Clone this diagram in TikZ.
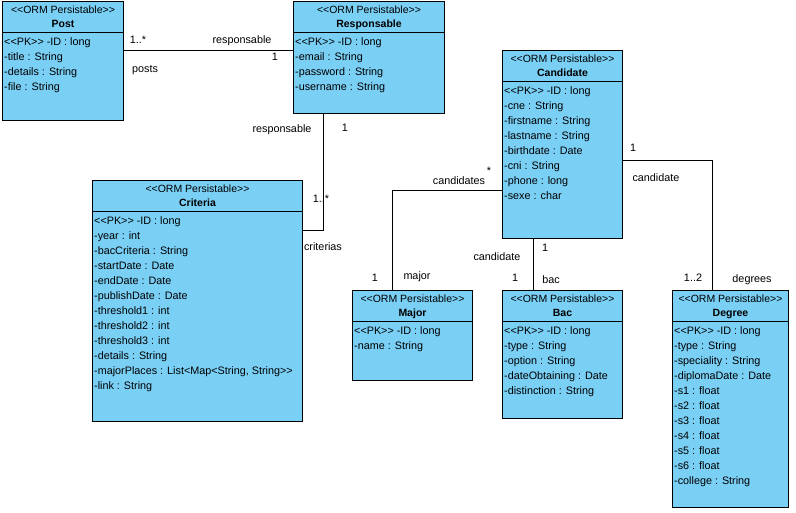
\documentclass[tikz,border=0pt]{standalone}
\usepackage{fontspec}
\newfontfamily\umlfont{Liberation Sans}
\usepackage{tikz}
\definecolor{umlblue}{RGB}{122,207,245}

\begin{document}
\begin{tikzpicture}[x=1pt,y=-1pt,
  classbox/.style={draw, fill=umlblue, anchor=north west, inner sep=0pt, line width=1pt},
  stereo/.style={anchor=base, inner sep=0pt, font=\umlfont\fontsize{10.5}{12}\selectfont},
  cname/.style={anchor=base, inner sep=0pt, font=\umlfont\bfseries\fontsize{10.5}{12}\selectfont},
  attrs/.style={anchor=north west, align=left, inner sep=0pt, font=\umlfont\fontsize{10.8}{15}\selectfont},
  lbl/.style={inner sep=0pt, font=\umlfont\fontsize{10.8}{12}\selectfont},
  assoc/.style={draw, line width=1pt}]
\useasboundingbox (0,0) rectangle (796,512);

% classes
\node[classbox, minimum width=121pt, minimum height=119pt] (post) at (2,1) {};
\node[stereo] (postst) at ([yshift=-12.75pt]post.north) {<<ORM Persistable>>};
\node[cname] (postnm) at ([yshift=-26.75pt]post.north) {Post};
\draw[line width=1pt] ([yshift=-31pt]post.north west) -- ([yshift=-31pt]post.north east);
\node[attrs] (postat) at ([xshift=2pt,yshift=-36pt]post.north west) {<<PK>> -ID : long\\-title : String\\-details : String\\-file : String};

\node[classbox, minimum width=151pt, minimum height=112pt] (resp) at (293,1) {};
\node[stereo] (respst) at ([yshift=-12.75pt]resp.north) {<<ORM Persistable>>};
\node[cname] (respnm) at ([yshift=-26.75pt]resp.north) {Responsable};
\draw[line width=1pt] ([yshift=-31pt]resp.north west) -- ([yshift=-31pt]resp.north east);
\node[attrs] (respat) at ([xshift=2pt,yshift=-36pt]resp.north west) {<<PK>> -ID : long\\-email : String\\-password : String\\-username : String};

\node[classbox, minimum width=210pt, minimum height=241pt] (crit) at (92,180) {};
\node[stereo] (critst) at ([yshift=-12.75pt]crit.north) {<<ORM Persistable>>};
\node[cname] (critnm) at ([yshift=-26.75pt]crit.north) {Criteria};
\draw[line width=1pt] ([yshift=-31pt]crit.north west) -- ([yshift=-31pt]crit.north east);
\node[attrs] (critat) at ([xshift=2pt,yshift=-36pt]crit.north west) {<<PK>> -ID : long\\-year : int\\-bacCriteria : String\\-startDate : Date\\-endDate : Date\\-publishDate : Date\\-threshold1 : int\\-threshold2 : int\\-threshold3 : int\\-details : String\\-majorPlaces : List<Map<String, String>>\\-link : String};

\node[classbox, minimum width=120pt, minimum height=188pt] (cand) at (502,50) {};
\node[stereo] (candst) at ([yshift=-12.75pt]cand.north) {<<ORM Persistable>>};
\node[cname] (candnm) at ([yshift=-26.75pt]cand.north) {Candidate};
\draw[line width=1pt] ([yshift=-31pt]cand.north west) -- ([yshift=-31pt]cand.north east);
\node[attrs] (candat) at ([xshift=2pt,yshift=-36pt]cand.north west) {<<PK>> -ID : long\\-cne : String\\-firstname : String\\-lastname : String\\-birthdate : Date\\-cni : String\\-phone : long\\-sexe : char};

\node[classbox, minimum width=120pt, minimum height=90pt] (major) at (352,290) {};
\node[stereo] (majorst) at ([yshift=-12.75pt]major.north) {<<ORM Persistable>>};
\node[cname] (majornm) at ([yshift=-26.75pt]major.north) {Major};
\draw[line width=1pt] ([yshift=-31pt]major.north west) -- ([yshift=-31pt]major.north east);
\node[attrs] (majorat) at ([xshift=2pt,yshift=-36pt]major.north west) {<<PK>> -ID : long\\-name : String};

\node[classbox, minimum width=120pt, minimum height=128pt] (bac) at (502,290) {};
\node[stereo] (bacst) at ([yshift=-12.75pt]bac.north) {<<ORM Persistable>>};
\node[cname] (bacnm) at ([yshift=-26.75pt]bac.north) {Bac};
\draw[line width=1pt] ([yshift=-31pt]bac.north west) -- ([yshift=-31pt]bac.north east);
\node[attrs] (bacat) at ([xshift=2pt,yshift=-36pt]bac.north west) {<<PK>> -ID : long\\-type : String\\-option : String\\-dateObtaining : Date\\-distinction : String};

\node[classbox, minimum width=116pt, minimum height=217pt] (degree) at (672,290) {};
\node[stereo] (degreest) at ([yshift=-12.75pt]degree.north) {<<ORM Persistable>>};
\node[cname] (degreenm) at ([yshift=-26.75pt]degree.north) {Degree};
\draw[line width=1pt] ([yshift=-31pt]degree.north west) -- ([yshift=-31pt]degree.north east);
\node[attrs] (degreeat) at ([xshift=2pt,yshift=-36pt]degree.north west) {<<PK>> -ID : long\\-type : String\\-speciality : String\\-diplomaDate : Date\\-s1 : float\\-s2 : float\\-s3 : float\\-s4 : float\\-s5 : float\\-s6 : float\\-college : String};

% associations
\draw[assoc] (post.east |- 0,50) -- (resp.west |- 0,50);
\draw[assoc] (resp.south -| 323,0) |- (crit.east |- 0,230);
\draw[assoc] (cand.west |- 0,190) -| (major.north -| 392,0);
\draw[assoc] (cand.south -| 533,0) -- (bac.north -| 533,0);
\draw[assoc] (cand.east |- 0,160) -| (degree.north -| 712,0);

% role names and multiplicities
\node[lbl] (m1) at (138,40) {1..*};
\node[lbl] (r1) at (242,41) {responsable};
\node[lbl] (m2) at (275,57) {1};
\node[lbl] (r2) at (145,70) {posts};
\node[lbl] (r3) at (282,130) {responsable};
\node[lbl] (m3) at (345,128) {1};
\node[lbl] (m4) at (321,199) {1..*};
\node[lbl] (r4) at (323,247) {criterias};
\node[lbl] (r5) at (459,181) {candidates};
\node[lbl] (m5) at (489,171) {*};
\node[lbl] (m6) at (633,148) {1};
\node[lbl] (r6) at (656,178) {candidate};
\node[lbl] (r7) at (497,257) {candidate};
\node[lbl] (m7) at (545,248) {1};
\node[lbl] (m8) at (375,278) {1};
\node[lbl] (r8) at (417,277) {major};
\node[lbl] (m9) at (515,278) {1};
\node[lbl] (r9) at (551,280) {bac};
\node[lbl] (m10) at (693,278) {1..2};
\node[lbl] (r10) at (752,280) {degrees};
\end{tikzpicture}
\end{document}
